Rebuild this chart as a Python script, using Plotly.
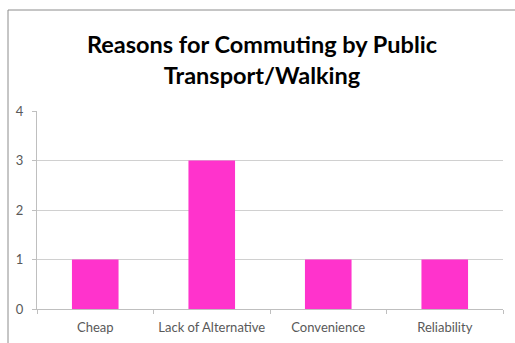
import plotly.graph_objects as go

# Survey responses: reasons for commuting by public transport / walking
reasons = ["Cheap", "Lack of Alternative", "Convenience", "Reliability"]
counts = [1, 3, 1, 1]
y_ticks = [0, 1, 2, 3, 4]

BAR_COLOR = "#FF33CC"
TEXT_COLOR = "#595959"
GRID_COLOR = "#D0D0D0"
FONT = "Lato, Open Sans, sans-serif"

fig = go.Figure(
    go.Bar(x=reasons, y=counts, marker=dict(color=BAR_COLOR, line=dict(width=0)), width=0.4)
)

fig.update_layout(
    width=515,
    height=343,
    margin=dict(l=37, r=12, t=111, b=34, autoexpand=False),
    paper_bgcolor="white",
    plot_bgcolor="white",
    showlegend=False,
    font=dict(family=FONT, color=TEXT_COLOR, size=13),
    title=dict(
        text="<b>Reasons for Commuting by Public<br>Transport/Walking</b>",
        x=262 / 515,
        xanchor="center",
        y=1 - 53 / 343,
        yanchor="middle",
        font=dict(family=FONT, size=23.5, color="black"),
    ),
    bargap=0.6,
)

fig.update_xaxes(
    type="category",
    automargin=False,
    showline=True,
    linecolor="#BFBFBF",
    linewidth=1,
    ticks="outside",
    tickson="boundaries",
    ticklen=4,
    tickcolor="#BFBFBF",
    showgrid=False,
    ticklabelstandoff=6,
    tickfont=dict(family=FONT, size=13, color=TEXT_COLOR),
)

fig.update_yaxes(
    range=[0, 4],
    tickvals=y_ticks,
    automargin=False,
    showline=True,
    linecolor="#BFBFBF",
    linewidth=1,
    ticks="outside",
    ticklen=4,
    tickcolor="#BFBFBF",
    showgrid=True,
    gridcolor=GRID_COLOR,
    gridwidth=1,
    zeroline=False,
    ticklabelstandoff=6,
    tickfont=dict(family=FONT, size=13, color=TEXT_COLOR),
)

# Chart frame around the whole chart area
fig.add_shape(
    type="rect",
    xref="paper",
    yref="paper",
    x0=(8 - 37) / 466,
    x1=1.05,
    y0=-0.3,
    y1=(309 - 10) / 198,
    line=dict(color="#8C8C8C", width=1),
    fillcolor="rgba(0,0,0,0)",
    layer="below",
)

fig.write_html("out.html")
